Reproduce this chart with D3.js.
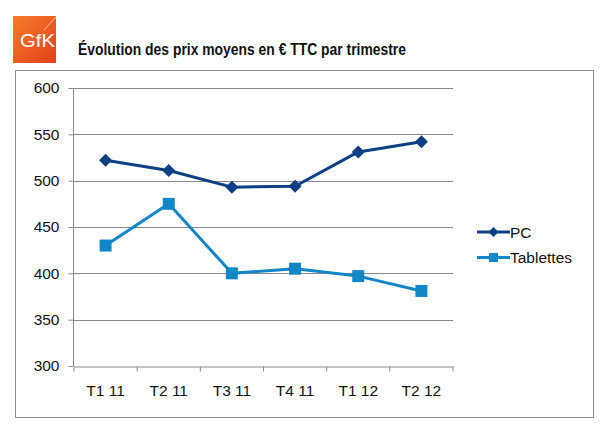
<!DOCTYPE html>
<html>
<head>
<meta charset="utf-8">
<script src="https://cdn.jsdelivr.net/npm/d3@7"></script>
<style>
  body { margin: 0; background: #fff; }
  svg { display: block; font-family: "Liberation Sans", Arial, sans-serif; }
</style>
</head>
<body>
<div id="chart"></div>
<script>
// data
const quarters = ['T1 11', 'T2 11', 'T3 11', 'T4 11', 'T1 12', 'T2 12'];
const pcValues = [522, 511, 493, 494, 531, 542];
const tabletValues = [430, 475, 400, 405, 397, 381];
const yTicks = [300, 350, 400, 450, 500, 550, 600];
const seriesNames = ['PC', 'Tablettes'];
const seriesColors = ['#0d3f85', '#1287c8'];

const width = 606, height = 429;
const margin = { top: 88, left: 74 };

const svg = d3.select('#chart')
    .append('svg')
    .attr('width', width)
    .attr('height', height);

// logo
const grad = svg.append('defs').append('linearGradient')
    .attr('id', 'gfk').attr('x1', 0).attr('y1', 0).attr('x2', 1).attr('y2', 1);
grad.append('stop').attr('offset', '0%').attr('stop-color', '#f57d2a');
grad.append('stop').attr('offset', '100%').attr('stop-color', '#e2401a');
svg.append('rect').attr('x', 13).attr('y', 16).attr('width', 43).attr('height', 47).attr('fill', 'url(#gfk)');
svg.append('line').attr('x1', 44).attr('y1', 30).attr('x2', 56).attr('y2', 17)
    .attr('stroke', '#fff').attr('stroke-opacity', 0.6).attr('stroke-width', 1);
svg.append('text').attr('x', 20).attr('y', 47)
    .attr('textLength', 35).attr('lengthAdjust', 'spacingAndGlyphs')
    .attr('fill', '#fff').style('font-size', '19px')
    .text('GfK');

// title
svg.append('text')
    .attr('x', 78).attr('y', 55)
    .attr('textLength', 328).attr('lengthAdjust', 'spacingAndGlyphs')
    .style('font-size', '17px').style('font-weight', 'bold')
    .attr('fill', '#111')
    .text('Évolution des prix moyens en € TTC par trimestre');

// chart frame
svg.append('rect')
    .attr('x', 15.5).attr('y', 70.5).attr('width', 578).attr('height', 347)
    .attr('fill', 'none').attr('stroke', '#8c8c8c').attr('stroke-width', 1);

const g = svg.append('g').attr('transform', `translate(${margin.left},${margin.top})`);
const plotW = 379, plotH = 278;

const x = d3.scaleBand().domain(quarters).range([0, plotW]);
const y = d3.scaleLinear().domain([300, 600]).range([plotH, 0]);

// grid
g.selectAll('.grid').data(yTicks.slice(1)).join('line')
    .attr('class', 'grid')
    .attr('x1', 0).attr('x2', plotW)
    .attr('y1', d => Math.round(y(d)) + 0.5).attr('y2', d => Math.round(y(d)) + 0.5)
    .attr('stroke', '#8a8a8a').attr('stroke-width', 1);

// axes
const yAxis = g.append('g').attr('transform', 'translate(-0.5,0)')
    .call(d3.axisLeft(y).tickValues(yTicks).tickSize(5).tickPadding(9));
const xAxis = g.append('g').attr('transform', `translate(0,${plotH + 0.5})`)
    .call(d3.axisBottom(x).tickSize(0).tickPadding(18));
xAxis.selectAll('.xt').data(d3.range(quarters.length + 1)).join('line')
    .attr('class', 'xt')
    .attr('x1', i => i * x.step()).attr('x2', i => i * x.step())
    .attr('y1', 0).attr('y2', 5);
[yAxis, xAxis].forEach(a => {
    a.select('.domain').attr('stroke', '#8a8a8a');
    a.selectAll('line').attr('stroke', '#8a8a8a');
    a.selectAll('text').style('font-size', '15.5px').attr('fill', '#111')
        .style('font-family', '"Liberation Sans", Arial, sans-serif');
});
yAxis.select('.domain').attr('d', `M0,0V${plotH}`);

const line = d3.line()
    .x((d, i) => x(quarters[i]) + x.bandwidth() / 2)
    .y(d => y(d));

const series = [pcValues, tabletValues];
series.forEach((vals, s) => {
    g.append('path').datum(vals)
        .attr('d', line)
        .attr('fill', 'none')
        .attr('stroke', seriesColors[s])
        .attr('stroke-width', 3)
        .attr('stroke-linejoin', 'round');
});

// markers
g.selectAll('.pc').data(pcValues).join('path')
    .attr('class', 'pc')
    .attr('transform', (d, i) => `translate(${x(quarters[i]) + x.bandwidth() / 2},${y(d)})`)
    .attr('d', 'M0,-6.5L6.5,0L0,6.5L-6.5,0Z')
    .attr('fill', seriesColors[0]);
g.selectAll('.tab').data(tabletValues).join('rect')
    .attr('class', 'tab')
    .attr('x', (d, i) => x(quarters[i]) + x.bandwidth() / 2 - 6)
    .attr('y', d => y(d) - 6)
    .attr('width', 12).attr('height', 12)
    .attr('fill', seriesColors[1]);

// legend
const legend = svg.append('g').attr('transform', 'translate(477,232)');
seriesNames.forEach((name, s) => {
    const row = legend.append('g').attr('transform', `translate(0,${s * 25.5})`);
    row.append('line').attr('x1', 0).attr('x2', 33).attr('y1', 0).attr('y2', 0)
        .attr('stroke', seriesColors[s]).attr('stroke-width', 3);
    if (s === 0) {
        row.append('path').attr('transform', 'translate(16.5,0)')
            .attr('d', 'M0,-5L5,0L0,5L-5,0Z').attr('fill', seriesColors[s]);
    } else {
        row.append('rect').attr('x', 12).attr('y', -4.5).attr('width', 9).attr('height', 9)
            .attr('fill', seriesColors[s]);
    }
    row.append('text').attr('x', 33).attr('y', 5.5)
        .style('font-size', '15.5px').attr('fill', '#111').text(name);
});
</script>
</body>
</html>
